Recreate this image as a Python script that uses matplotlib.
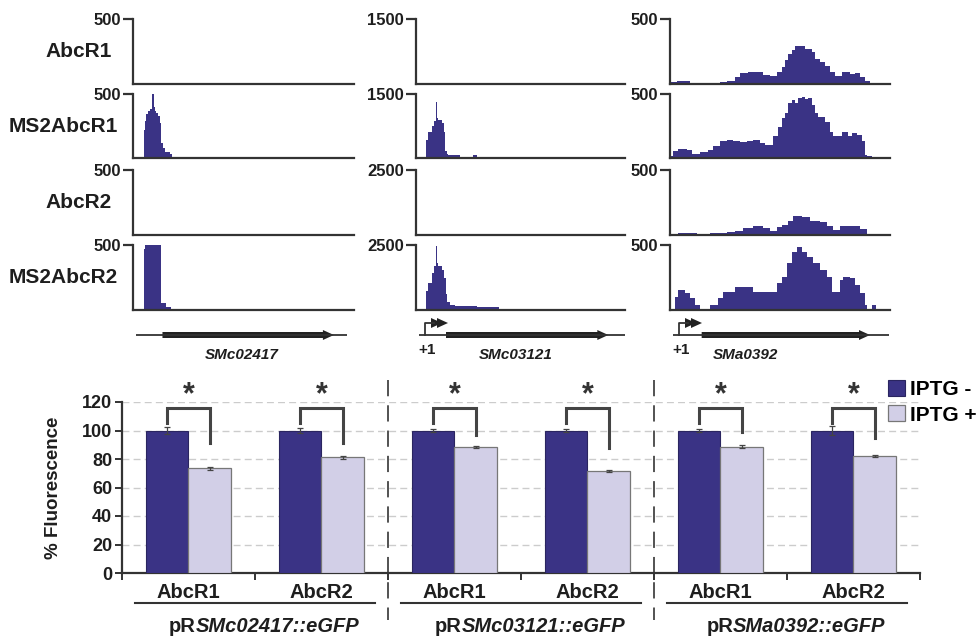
import matplotlib
matplotlib.use('Agg')
import matplotlib.pyplot as plt
import numpy as np
from matplotlib.patches import Polygon

plt.rcParams['font.family'] = ['Liberation Sans', 'DejaVu Sans']
plt.rcParams['font.weight'] = 'bold'

# ---------------- data: coverage tracks ----------------
sample_names = ['AbcR1', 'MS2AbcR1', 'AbcR2', 'MS2AbcR2']
gene_names = ['SMc02417', 'SMc03121', 'SMa0392']
track_scales = [[500, 500, 500, 500], [1500, 1500, 2500, 2500], [500, 500, 500, 500]]
col_span = [660, 627, 660]

# column 1 (SMc02417)
c1_abcr1_edges = [0, 660]
c1_abcr1_vals = [0]
c1_ms2abcr1_edges = [32, 36, 40, 45, 50, 56, 58, 62, 65, 70, 75, 80, 85, 90, 95, 110, 115, 160]
c1_ms2abcr1_vals = [220, 290, 340, 365, 380, 420, 500, 400, 370, 355, 330, 270, 117, 80, 50, 30, 8]
c1_abcr2_edges = [55, 85]
c1_abcr2_vals = [8]
c1_ms2abcr2_edges = [32, 36, 85, 100, 112]
c1_ms2abcr2_vals = [470, 500, 55, 20]

# column 2 (SMc03121)
c2_abcr1_edges = [0, 627]
c2_abcr1_vals = [0]
c2_ms2abcr1_edges = [30, 37, 47, 54, 59, 63, 67, 77, 84, 87, 94, 97, 132, 170, 184, 237]
c2_ms2abcr1_vals = [423, 610, 757, 870, 1314, 943, 900, 832, 610, 163, 100, 60, 15, 60, 15]
c2_abcr2_edges = [52, 82, 170, 184, 427, 432, 477, 537]
c2_abcr2_vals = [40, 0, 35, 0, 30, 0, 35]
c2_ms2abcr2_edges = [30, 37, 47, 54, 59, 63, 67, 77, 84, 89, 94, 102, 117, 182, 250]
c2_ms2abcr2_vals = [732, 1048, 1427, 1680, 2462, 1806, 1700, 1550, 1237, 606, 290, 200, 164, 100]

# column 3 (SMa0392)
c3_abcr1_edges = [0, 20, 60, 80, 120, 150, 170, 195, 210, 235, 280, 300, 320, 335, 345, 355,
                  365, 375, 405, 425, 435, 450, 465, 480, 495, 515, 540, 555, 570, 585, 600]
c3_abcr1_vals = [13, 21, 10, 0, 10, 16, 26, 57, 83, 91, 73, 65, 91, 130, 181, 233, 264, 290,
                 272, 246, 194, 168, 142, 91, 65, 91, 78, 83, 57, 26]
c3_ms2abcr1_edges = [0, 10, 25, 50, 65, 90, 115, 130, 150, 170, 190, 210, 230, 250, 270, 285,
                     310, 325, 335, 345, 355, 365, 375, 385, 395, 405, 415, 425, 435, 445, 465,
                     480, 490, 515, 535, 545, 560, 575, 585, 592, 605]
c3_ms2abcr1_vals = [13, 52, 70, 60, 34, 44, 65, 91, 130, 142, 130, 122, 130, 142, 117, 98, 168,
                    246, 311, 350, 427, 453, 427, 466, 479, 461, 466, 414, 350, 319, 285, 207,
                    168, 207, 168, 199, 181, 130, 26, 13]
c3_abcr2_edges = [25, 80, 120, 170, 195, 220, 250, 280, 300, 320, 335, 355, 370, 395, 420, 450,
                  470, 490, 510, 540, 570, 590]
c3_abcr2_vals = [13, 0, 13, 20, 33, 51, 66, 51, 33, 59, 77, 110, 148, 135, 110, 97, 71, 41, 66,
                 71, 46]
c3_ms2abcr2_edges = [15, 25, 45, 60, 75, 90, 120, 145, 160, 195, 250, 320, 335, 350, 365, 380,
                     395, 410, 430, 450, 470, 485, 510, 520, 540, 555, 570, 585, 590, 605, 618]
c3_ms2abcr2_vals = [103, 154, 133, 90, 38, 0, 38, 90, 141, 179, 141, 205, 256, 359, 449, 487,
                    449, 410, 359, 308, 256, 141, 231, 256, 244, 192, 128, 38, 0, 38]

tracks = [
    [(c1_abcr1_edges, c1_abcr1_vals), (c1_ms2abcr1_edges, c1_ms2abcr1_vals),
     (c1_abcr2_edges, c1_abcr2_vals), (c1_ms2abcr2_edges, c1_ms2abcr2_vals)],
    [(c2_abcr1_edges, c2_abcr1_vals), (c2_ms2abcr1_edges, c2_ms2abcr1_vals),
     (c2_abcr2_edges, c2_abcr2_vals), (c2_ms2abcr2_edges, c2_ms2abcr2_vals)],
    [(c3_abcr1_edges, c3_abcr1_vals), (c3_ms2abcr1_edges, c3_ms2abcr1_vals),
     (c3_abcr2_edges, c3_abcr2_vals), (c3_ms2abcr2_edges, c3_ms2abcr2_vals)],
]

# gene features (same units as tracks)
gene_line = [(8, 640), (10, 627), (10, 658)]
gene_cds = [(88, 600), (90, 577), (95, 600)]
gene_tss = [None, 27, 27]
gene_label_pos = [324, 300, 228]

# ---------------- data: fluorescence bars ----------------
regulators = ['AbcR1', 'AbcR2', 'AbcR1', 'AbcR2', 'AbcR1', 'AbcR2']
construct_prefix = ['pR', 'pR', 'pR']
construct_genes = ['SMc02417::eGFP', 'SMc03121::eGFP', 'SMa0392::eGFP']
iptg_minus = [100, 100, 100, 100, 100, 100]
iptg_minus_err = [2.5, 1.5, 1.0, 1.0, 1.0, 3.5]
iptg_plus = [73.5, 81.2, 88.6, 71.6, 88.6, 82.1]
iptg_plus_err = [1.0, 1.0, 0.8, 1.0, 1.0, 1.0]
bracket_right = [91, 91, 97, 88, 99, 95]
legend_labels = ['IPTG -', 'IPTG +']

# ---------------- style ----------------
W, H = 979, 637
DARK = '#3a3385'
LIGHT = '#d2cfe7'
INK = '#333333'
TXT = '#1e1e1e'

fig = plt.figure(figsize=(9.79, 6.37), dpi=100)


def px_axes(x0, y0, x1, y1):
    return fig.add_axes([x0 / W, 1 - y1 / H, (x1 - x0) / W, (y1 - y0) / H])


track_rows = [(19, 84), (94, 158), (170, 235), (245, 310)]
col_x = [(133, 354), (416, 625), (670, 890)]
label_x = [79, 63, 79, 63]

for ci in range(3):
    x0, x1 = col_x[ci]
    for ri in range(4):
        y0, y1 = track_rows[ri]
        ax = px_axes(x0, y0, x1, y1)
        edges, vals = tracks[ci][ri]
        ax.stairs(vals, edges, fill=True, color=DARK, baseline=0, lw=0)
        ax.set_xlim(0, col_span[ci])
        ax.set_ylim(0, track_scales[ci][ri])
        for s in ['top', 'right']:
            ax.spines[s].set_visible(False)
        for s in ['left', 'bottom']:
            ax.spines[s].set_linewidth(1.6)
            ax.spines[s].set_color(INK)
        ax.set_xticks([])
        ax.set_yticks([track_scales[ci][ri]])
        ax.tick_params(axis='y', length=7, width=1.6, pad=1.5, labelsize=12,
                       color=INK, labelcolor=TXT)
        if ci == 0:
            fig.text(label_x[ri] / W, 1 - ((y0 + y1) / 2) / H, sample_names[ri],
                     ha='center', va='center', fontsize=15, color=TXT)

    # gene diagram
    gx = px_axes(x0, 315, x1, 345)
    gx.set_xlim(0, col_span[ci])
    gx.set_ylim(0, 30)
    gx.axis('off')
    upx = col_span[ci] / (x1 - x0)  # data units per pixel
    l0, l1 = gene_line[ci]
    gx.plot([l0, l1], [10, 10], color=INK, lw=1.3, solid_capstyle='butt')
    c0, c1 = gene_cds[ci]
    hl = 11 * upx
    poly = [(c0, 7), (c1 - hl, 7), (c1 - hl, 5), (c1, 10), (c1 - hl, 15), (c1 - hl, 13), (c0, 13)]
    gx.add_patch(Polygon(poly, closed=True, color='#222222', lw=0))
    tss = gene_tss[ci]
    if tss is not None:
        gx.plot([tss, tss, tss + 9 * upx], [10, 22, 22], color=INK, lw=1.3)
        for off in (6, 12):
            tri = [(tss + off * upx, 17), (tss + (off + 11) * upx, 22), (tss + off * upx, 27)]
            gx.add_patch(Polygon(tri, closed=True, color='#222222', lw=0))
        gx.text(tss + 2 * upx, -5, '+1', ha='center', va='center', fontsize=11,
                color=TXT, clip_on=False)
    gx.text(gene_label_pos[ci], -10, gene_names[ci], ha='center', va='center',
            fontsize=11, style='italic', color=TXT, clip_on=False)

# ---------------- bar chart ----------------
bx = px_axes(122, 402, 920, 573)
n = len(regulators)
centers = np.arange(n) + 0.5
bw = 0.316
bx.bar(centers - bw / 2, iptg_minus, width=bw, color=DARK, edgecolor='#2a2560', lw=0.8,
       yerr=iptg_minus_err, error_kw=dict(ecolor='#444444', elinewidth=0.9, capsize=2.5,
                                         capthick=0.9), zorder=3, label=legend_labels[0])
bx.bar(centers + bw / 2, iptg_plus, width=bw, color=LIGHT, edgecolor='#777777', lw=0.9,
       yerr=iptg_plus_err, error_kw=dict(ecolor='#444444', elinewidth=0.9, capsize=2.5,
                                        capthick=0.9), zorder=3, label=legend_labels[1])
bx.set_xlim(0, n)
bx.set_ylim(0, 120)
bx.set_yticks(np.arange(0, 121, 20))
bx.yaxis.grid(True, color='#cccccc', ls=(0, (5, 3)), lw=1.0, zorder=0)
bx.set_axisbelow(True)
for s in ['top', 'right']:
    bx.spines[s].set_visible(False)
for s in ['left', 'bottom']:
    bx.spines[s].set_linewidth(1.6)
    bx.spines[s].set_color(INK)
bx.tick_params(axis='y', length=5, width=1.4, labelsize=13, color=INK, labelcolor=TXT, pad=2)
bx.set_xticks(np.arange(0, n + 1))
bx.set_xticklabels([])
bx.tick_params(axis='x', length=5, width=1.4, color=INK)

# significance brackets and stars
for i in range(n):
    xl = centers[i] - bw / 2
    xr = centers[i] + bw / 2
    bx.plot([xl, xl, xr, xr], [105, 116, 116, bracket_right[i]], color='#444444', lw=2.2,
            clip_on=False, zorder=4, solid_joinstyle='miter')
    bx.text(centers[i], 124.5, '*', ha='center', va='center', fontsize=22, color=INK,
            clip_on=False)

xt = bx.get_xaxis_transform()
ppx = 1 / 171.0  # axes fraction per pixel (vertical)
for i in range(n):
    bx.text(centers[i], -(592 - 573) * ppx, regulators[i], transform=xt, ha='center',
            va='center', fontsize=14.5, color=TXT)

for g in range(3):
    bx.plot([2 * g + 0.1, 2 * g + 1.9], [-(603 - 573) * ppx] * 2, transform=xt, color=INK,
            lw=1.5, clip_on=False)
for b in (2, 4):
    bx.plot([b, b], [(573 - 380) * ppx, -(620 - 573) * ppx], transform=xt, color='#444444',
            lw=1.3, ls=(0, (9, 5)), clip_on=False)

# construct labels: "pR" upright + italic gene part, centred together
fig.canvas.draw()
r = fig.canvas.get_renderer()
for g in range(3):
    ycap = -(627 - 573) * ppx
    t1 = bx.text(0, ycap, construct_prefix[g], transform=xt, ha='left', va='center',
                 fontsize=14.5, color=TXT)
    t2 = bx.text(0, ycap, construct_genes[g], transform=xt, ha='left', va='center',
                 fontsize=14.5, color=TXT, style='italic')
    w1 = t1.get_window_extent(r).width
    w2 = t2.get_window_extent(r).width
    cpx = 122 + 133 * (2 * g + 1) + 9
    start = cpx - (w1 + w2) / 2
    t1.set_x((start - 122) / 133.0)
    t2.set_x((start + w1 - 122) / 133.0)

fig.text(54 / W, 1 - 488 / H, '% Fluorescence', rotation=90, ha='center', va='center',
         fontsize=13.5, color=TXT)

fig.legend(loc='upper left', bbox_to_anchor=(888 / W, 1 - 380 / H), frameon=False,
           handlelength=0.8, handleheight=0.8, handletextpad=0.25, labelspacing=0.3,
           borderpad=0, borderaxespad=0, fontsize=15)

fig.savefig('out.png', dpi=100)
